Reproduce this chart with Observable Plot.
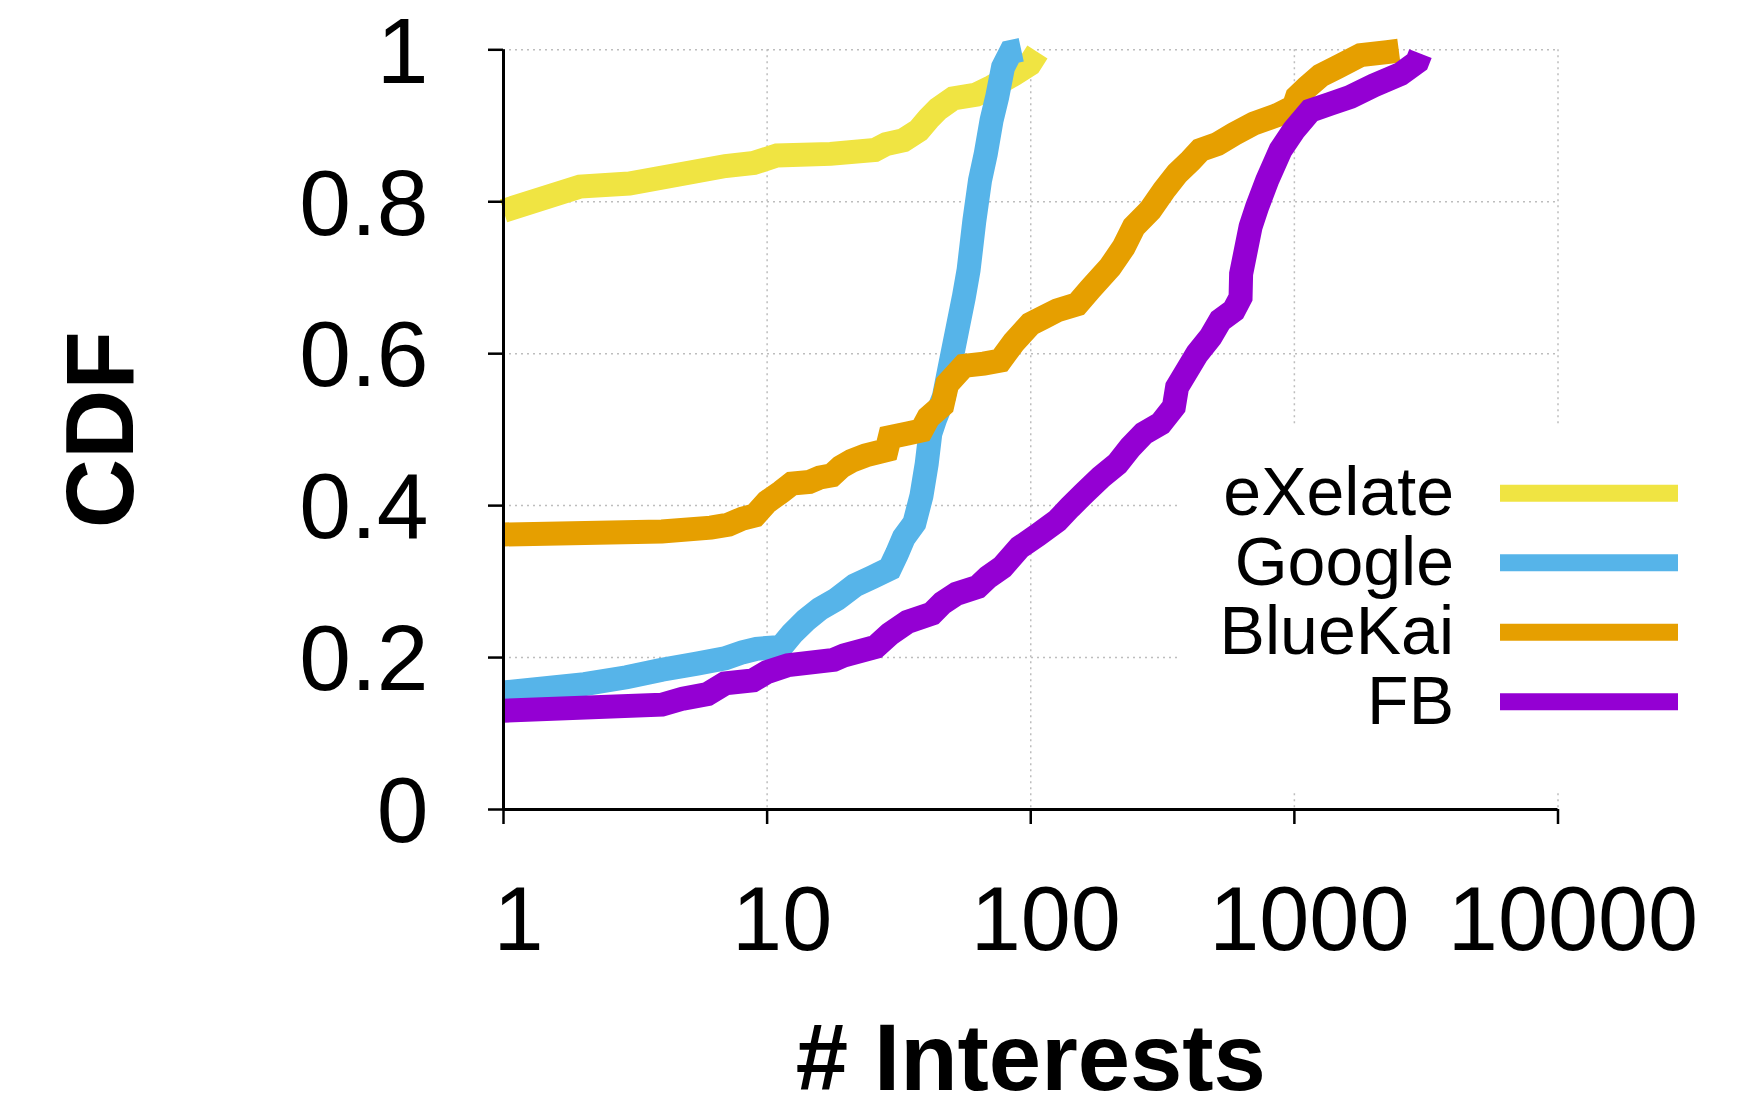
<!DOCTYPE html>
<html>
<head>
<meta charset="utf-8">
<script src="https://cdn.jsdelivr.net/npm/d3@7"></script>
<script src="https://cdn.jsdelivr.net/npm/@observablehq/plot@0.6"></script>
<style>
  html, body { margin: 0; padding: 0; background: #fff; }
  #chart { width: 1757px; height: 1099px; }
</style>
</head>
<body>
<div id="chart"></div>
<script>
// ---- data ----
const seriesNames = ["eXelate", "Google", "BlueKai", "FB"];
const seriesColors = ["#f0e442", "#56b4e9", "#e69f00", "#9400d3"];

const exelateX = [1, 1.95, 3.0, 6.95, 8.9, 10.9, 17.4, 25.6, 28.3, 32.9, 37.6, 40.9, 44.5, 50.8, 62.1, 71, 86.7, 99, 106];
const exelateY = [0.788, 0.820, 0.824, 0.847, 0.851, 0.861, 0.863, 0.868, 0.876, 0.881, 0.894, 0.909, 0.922, 0.936, 0.941, 0.951, 0.968, 0.981, 0.997];

const googleX = [1, 2.03, 2.93, 3.99, 5.42, 6.92, 8.07, 9.12, 11.3, 12.4, 14.0, 15.85, 18.4, 21.5, 25.1, 29.2, 31.1, 33.0, 36.2, 38.5, 40.3, 41.6, 43.5, 46.8, 49.6, 52.6, 55.7, 58.1, 61.1, 64.2, 67.5, 71.0, 74.6, 78.5, 84, 92];
const googleY = [0.154, 0.165, 0.174, 0.184, 0.192, 0.199, 0.207, 0.2115, 0.214, 0.231, 0.249, 0.264, 0.277, 0.295, 0.306, 0.317, 0.337, 0.358, 0.377, 0.413, 0.455, 0.495, 0.515, 0.543, 0.587, 0.631, 0.674, 0.71, 0.775, 0.828, 0.863, 0.907, 0.938, 0.977, 0.997, 1.0];

const bluekaiX = [1, 3.99, 6.12, 7.14, 8.07, 8.98, 10, 11.3, 12.4, 14.45, 15.85, 17.6, 19.05, 20.9, 23.6, 28.4, 29.2, 34.1, 38.5, 40.9, 46.2, 48.2, 55.7, 66.4, 76.7, 86.2, 99.7, 112, 126, 150, 168, 200, 225, 246, 284, 320, 359, 404, 440, 510, 589, 702, 860, 995, 1024, 1119, 1257, 1452, 1782, 2249, 2490];
const bluekaiY = [0.362, 0.366, 0.371, 0.375, 0.383, 0.387, 0.405, 0.418, 0.429, 0.431, 0.437, 0.440, 0.451, 0.459, 0.466, 0.473, 0.490, 0.495, 0.499, 0.516, 0.532, 0.56, 0.584, 0.587, 0.591, 0.615, 0.639, 0.648, 0.657, 0.665, 0.685, 0.714, 0.740, 0.767, 0.789, 0.815, 0.837, 0.854, 0.868, 0.876, 0.889, 0.903, 0.914, 0.925, 0.938, 0.951, 0.966, 0.977, 0.993, 0.997, 0.999];

const fbX = [1, 3.99, 4.79, 5.94, 6.92, 8.84, 10, 12.0, 17.9, 19.6, 25.8, 29.2, 34.1, 42.2, 46.3, 52.3, 62.9, 68.9, 78, 90.8, 106, 126, 141, 159, 184, 213, 239, 268, 311, 349, 359, 392, 428, 481, 524, 589, 625, 628, 682, 722, 788, 886, 995, 1151, 1370, 1632, 2000, 2527, 2924, 3008];
const fbY = [0.130, 0.138, 0.146, 0.152, 0.166, 0.170, 0.181, 0.190, 0.197, 0.203, 0.214, 0.231, 0.247, 0.258, 0.272, 0.284, 0.293, 0.306, 0.319, 0.345, 0.361, 0.380, 0.398, 0.416, 0.437, 0.455, 0.477, 0.495, 0.508, 0.530, 0.556, 0.578, 0.600, 0.622, 0.644, 0.657, 0.674, 0.705, 0.767, 0.793, 0.828, 0.868, 0.894, 0.920, 0.929, 0.938, 0.953, 0.968, 0.984, 0.995];

const xTicks = [1, 10, 100, 1000, 10000];
const yTicks = [0, 0.2, 0.4, 0.6, 0.8, 1];
const xTitle = "# Interests";
const yTitle = "CDF";

// ---- build table ----
const seriesXs = [exelateX, googleX, bluekaiX, fbX];
const seriesYs = [exelateY, googleY, bluekaiY, fbY];
const table = seriesNames.flatMap((name, i) =>
  seriesXs[i].map((x, j) => ({series: name, x, y: seriesYs[i][j]})));

// ---- layout ----
const W = 1757, H = 1099;
const mL = 503, mR = 199.5, mT = 49.3, mB = 290;
const font = "'Liberation Sans', Arial, Helvetica, sans-serif";
const grid = {stroke: "#bdbdbd", strokeWidth: 1.5, strokeDasharray: "2,4"};

const chart = Plot.plot({
  width: W, height: H,
  marginLeft: mL, marginRight: mR, marginTop: mT, marginBottom: mB,
  style: {fontFamily: font, background: "#fff", color: "#000", overflow: "visible"},
  x: {type: "log", domain: [xTicks[0], xTicks[xTicks.length - 1]], label: null},
  y: {domain: [yTicks[0], yTicks[yTicks.length - 1]], label: null},
  color: {domain: seriesNames, range: seriesColors},
  marks: [
    Plot.ruleY(yTicks.slice(1), grid),
    Plot.ruleX(xTicks.slice(1), grid),
    Plot.line(table, {x: "x", y: "y", z: "series", stroke: "series",
      strokeWidth: 24, strokeLinejoin: "miter", strokeMiterlimit: 3, strokeLinecap: "butt"}),
    Plot.ruleX([xTicks[0]], {stroke: "#000", strokeWidth: 3}),
    Plot.ruleY([yTicks[0]], {stroke: "#000", strokeWidth: 3}),
    Plot.axisX(xTicks, {tickSize: 15, strokeWidth: 2.5, fill: "none", label: null}),
    Plot.axisX(xTicks, {tickSize: 15, tickPadding: 62, stroke: "none", dx: 15,
      fontSize: 90, tickFormat: d => String(d), label: null}),
    Plot.axisY(yTicks, {tickSize: 15, strokeWidth: 2.5, fill: "none", label: null}),
    Plot.axisY(yTicks, {tickSize: 15, tickPadding: 60, stroke: "none", dy: 3,
      fontSize: 93, tickFormat: d => String(d), label: null}),
    Plot.text([yTitle], {text: d => d, frameAnchor: "left", rotate: -90, textAnchor: "middle",
      lineAnchor: "bottom", dx: -371, fontSize: 96, fontWeight: "bold"}),
    Plot.text([xTitle], {text: d => d, frameAnchor: "bottom", textAnchor: "middle",
      lineAnchor: "bottom", dy: 280, fontSize: 94, fontWeight: "bold"})
  ]
});

document.getElementById("chart").appendChild(chart);

// ---- opaque key box (hides grid behind the key), then the key itself ----
const svg = d3.select(chart);
svg.insert("rect", "g[aria-label='line']")
  .attr("x", 1180).attr("y", 427).attr("width", W - 1180).attr("height", 793 - 427)
  .attr("fill", "#fff");

const key = svg.append("g").attr("font-family", font);
seriesNames.forEach((name, i) => {
  const cy = 493.3 + i * 69.5;
  key.append("text").attr("x", 1454).attr("y", cy + 21.7)
    .attr("text-anchor", "end").attr("font-size", 68).attr("fill", "#000").text(name);
  key.append("line").attr("x1", 1500).attr("x2", 1678).attr("y1", cy).attr("y2", cy)
    .attr("stroke", seriesColors[i]).attr("stroke-width", 17);
});
</script>
</body>
</html>
